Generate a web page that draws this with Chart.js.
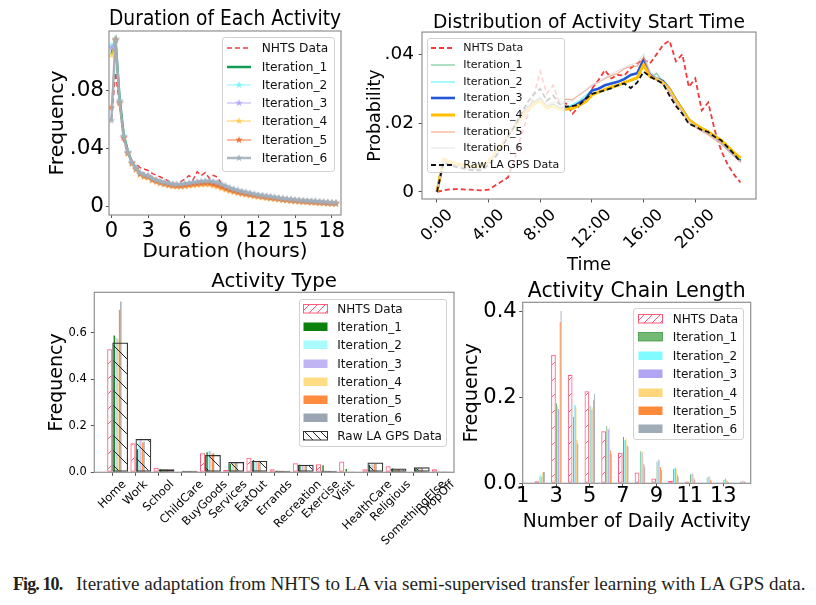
<!DOCTYPE html>
<html>
<head>
<meta charset="utf-8">
<script src="https://cdn.jsdelivr.net/npm/chart.js@4.4.1/dist/chart.umd.min.js"></script>
<style>
html,body{margin:0;padding:0;background:#fff;}
body{width:816px;height:605px;position:relative;overflow:hidden;}
canvas{position:absolute;}
.leg{position:absolute;box-sizing:border-box;border:1px solid #d2d2d2;border-radius:3px;background:rgba(255,255,255,0.8);font-family:'DejaVu Sans',sans-serif;color:#111;}
.leg .row{position:absolute;left:0;right:0;height:16px;line-height:16px;white-space:nowrap;}
.leg svg{position:absolute;overflow:visible;}
.leg span{position:absolute;top:0;}
#cap{position:absolute;left:13px;top:573.5px;font-family:'Liberation Serif','Times New Roman',serif;font-size:19.1px;line-height:20px;color:#231f20;white-space:nowrap;}
#cap b{font-size:18px;letter-spacing:-0.9px;}
</style>
</head>
<body>
<canvas id="cA" width="360" height="268" style="left:0px;top:0px"></canvas>
<canvas id="cB" width="456" height="280" style="left:360px;top:0px"></canvas>
<canvas id="cC" width="470" height="290" style="left:0px;top:262px"></canvas>
<canvas id="cD" width="361" height="268" style="left:455px;top:270px"></canvas>
<div id="cap"><b>Fig. 10.</b><span style="margin-left:13.7px">Iterative adaptation from NHTS to LA via semi-supervised transfer learning with LA GPS data.</span></div>
<script>
// ================= DATA =================
const iterNames = ['Iteration_1','Iteration_2','Iteration_3','Iteration_4','Iteration_5','Iteration_6'];
const nhtsName = 'NHTS Data';
const rawName = 'Raw LA GPS Data';

// --- Duration of Each Activity ---
const durMinutes = [0,20,40,60,80,100,120,140,160,180,200,220,240,260,280,300,320,340,360,380,400,420,440,460,480,500,520,540,560,580,600,620,640,660,680,700,720,740,760,780,800,820,840,860,880,900,920,940,960,980,1000,1020,1040,1060,1080,1100];
const durTicksX = [0,3,6,9,12,15,18];
const durTicksY = [0,0.04,0.08];
const durTickLabelsY = ['0','.04','.08'];
const durNHTS = [0.060,0.092,0.069,0.045,0.036,0.031,0.029,0.0265,0.0255,0.0245,0.0225,0.0212,0.0200,0.0188,0.0172,0.0160,0.0152,0.0168,0.0186,0.0210,0.0180,0.0237,0.0210,0.0230,0.0190,0.0212,0.0198,0.0152,0.0136,0.0122,0.0112,0.0102,0.0094,0.0088,0.0082,0.0076,0.0071,0.0067,0.0063,0.0059,0.0055,0.0051,0.0048,0.0045,0.0042,0.0039,0.0036,0.0034,0.0032,0.0030,0.0028,0.0026,0.0024,0.0022,0.0020,0.0019];
const durIter1 = [0.105,0.114,0.074,0.049,0.038,0.030,0.026,0.0228,0.0212,0.0206,0.0186,0.0176,0.0166,0.0158,0.0150,0.0145,0.0142,0.0141,0.0144,0.0147,0.0151,0.0154,0.0156,0.0158,0.0158,0.0152,0.0145,0.0135,0.0125,0.0115,0.0107,0.0099,0.0093,0.0087,0.0082,0.0076,0.0070,0.0066,0.0062,0.0058,0.0054,0.0050,0.0046,0.0043,0.0040,0.0037,0.0034,0.0032,0.0030,0.0028,0.0026,0.0024,0.0022,0.0020,0.0019,0.0017];
const durIter2 = [0.1106,0.1142,0.073,0.048,0.037,0.0298,0.0258,0.0224,0.0209,0.0204,0.0184,0.0174,0.0164,0.0156,0.0149,0.0144,0.0142,0.0142,0.0146,0.0150,0.0155,0.0159,0.0161,0.0163,0.0164,0.0158,0.0150,0.0139,0.0128,0.0117,0.0108,0.0100,0.0093,0.0087,0.0082,0.0076,0.0070,0.0066,0.0062,0.0058,0.0054,0.0050,0.0046,0.0043,0.0040,0.0037,0.0035,0.0033,0.0031,0.0029,0.0027,0.0025,0.0023,0.0021,0.0019,0.0018];
const durIter3 = [0.109,0.1143,0.072,0.0478,0.0368,0.0299,0.0259,0.0225,0.0210,0.0205,0.0185,0.0175,0.0165,0.0157,0.0150,0.0145,0.0143,0.0143,0.0147,0.0151,0.0155,0.0159,0.0162,0.0164,0.0165,0.0159,0.0151,0.0139,0.0128,0.0118,0.0109,0.0101,0.0094,0.0088,0.0083,0.0077,0.0071,0.0067,0.0063,0.0059,0.0055,0.0051,0.0047,0.0044,0.0041,0.0038,0.0035,0.0033,0.0031,0.0029,0.0027,0.0025,0.0023,0.0021,0.0019,0.0018];
const durIter4 = [0.104,0.1140,0.071,0.047,0.036,0.029,0.025,0.0215,0.0200,0.0195,0.0176,0.0166,0.0156,0.0148,0.0141,0.0136,0.0134,0.0134,0.0137,0.0140,0.0143,0.0146,0.0148,0.0149,0.0148,0.0141,0.0133,0.0122,0.0113,0.0104,0.0097,0.0090,0.0084,0.0079,0.0074,0.0069,0.0064,0.0060,0.0056,0.0052,0.0049,0.0045,0.0042,0.0039,0.0036,0.0033,0.0031,0.0029,0.0027,0.0025,0.0023,0.0021,0.0020,0.0018,0.0017,0.0016];
const durIter5 = [0.068,0.1148,0.071,0.047,0.0365,0.0295,0.0255,0.0220,0.0205,0.0200,0.0180,0.0170,0.0160,0.0152,0.0145,0.0140,0.0138,0.0138,0.0141,0.0145,0.0149,0.0152,0.0154,0.0156,0.0155,0.0148,0.0140,0.0129,0.0119,0.0109,0.0101,0.0094,0.0088,0.0082,0.0077,0.0072,0.0067,0.0063,0.0059,0.0055,0.0051,0.0048,0.0044,0.0041,0.0038,0.0035,0.0033,0.0031,0.0029,0.0027,0.0025,0.0023,0.0021,0.0019,0.0018,0.0017];
const durIter6 = [0.059,0.1150,0.072,0.048,0.0370,0.0300,0.0262,0.0228,0.0214,0.0208,0.0189,0.0179,0.0169,0.0161,0.0155,0.0150,0.0149,0.0150,0.0154,0.0158,0.0163,0.0167,0.0170,0.0172,0.0173,0.0168,0.0161,0.0149,0.0137,0.0125,0.0115,0.0107,0.0100,0.0094,0.0088,0.0082,0.0076,0.0072,0.0068,0.0064,0.0060,0.0056,0.0052,0.0049,0.0046,0.0043,0.0040,0.0038,0.0036,0.0034,0.0032,0.0030,0.0028,0.0026,0.0024,0.0023];

// --- Distribution of Activity Start Time ---
const startHours = [0,0.5,1,1.5,2,2.5,3,3.5,4,4.5,5,5.5,6,6.5,7,7.5,8,8.5,9,9.5,10,10.5,11,11.5,12,12.5,13,13.5,14,14.5,15,15.5,16,16.5,17,17.5,18,18.5,19,19.5,20,20.5,21,21.5,22,22.5,23,23.5];
const startTicks = [0,4,8,12,16,20];
const startTickLabels = ['0:00','4:00','8:00','12:00','16:00','20:00'];
const startTicksY = [0,0.02,0.04];
const startTickLabelsY = ['0','.02','.04'];
const startNHTS = [0,0.0004,0.0007,0.0008,0.0007,0.0006,0.0005,0.0004,0.0006,0.0018,0.0030,0.0042,0.0095,0.0160,0.0220,0.0280,0.0350,0.0286,0.0310,0.0260,0.0257,0.0227,0.0250,0.0266,0.0300,0.0325,0.0354,0.0330,0.0340,0.0338,0.0360,0.0374,0.0385,0.0374,0.0400,0.0427,0.0440,0.0380,0.0400,0.0305,0.0330,0.0237,0.0260,0.0180,0.0120,0.0080,0.0050,0.0027];
const startIter1 = [0,0.0090,0.0084,0.0079,0.0076,0.0072,0.0070,0.0072,0.0088,0.0110,0.0138,0.0168,0.0195,0.0222,0.0245,0.0262,0.0272,0.0248,0.0255,0.0243,0.0245,0.0250,0.0258,0.0272,0.0285,0.0290,0.0295,0.0300,0.0310,0.0320,0.0322,0.0330,0.0372,0.0332,0.0345,0.0320,0.0300,0.0268,0.0240,0.0210,0.0195,0.0183,0.0175,0.0162,0.0148,0.0128,0.0110,0.0092];
const startIter2 = [0,0.0092,0.0086,0.0080,0.0077,0.0073,0.0071,0.0073,0.0090,0.0112,0.0140,0.0170,0.0197,0.0224,0.0247,0.0265,0.0275,0.0250,0.0257,0.0245,0.0247,0.0254,0.0264,0.0280,0.0295,0.0302,0.0308,0.0315,0.0322,0.0330,0.0338,0.0345,0.0380,0.0338,0.0330,0.0318,0.0298,0.0265,0.0238,0.0208,0.0194,0.0182,0.0173,0.0160,0.0146,0.0127,0.0110,0.0094];
const startIter3 = [0,0.0090,0.0083,0.0078,0.0075,0.0071,0.0069,0.0071,0.0087,0.0108,0.0136,0.0166,0.0193,0.0220,0.0243,0.0260,0.0270,0.0246,0.0253,0.0242,0.0245,0.0246,0.0258,0.0270,0.0295,0.0300,0.0310,0.0315,0.0320,0.0328,0.0340,0.0345,0.0385,0.0340,0.0330,0.0322,0.0300,0.0268,0.0240,0.0210,0.0195,0.0183,0.0172,0.0160,0.0146,0.0126,0.0108,0.0090];
const startIter4 = [0,0.0095,0.0088,0.0082,0.0079,0.0075,0.0073,0.0075,0.0090,0.0110,0.0136,0.0165,0.0190,0.0215,0.0238,0.0255,0.0265,0.0244,0.0250,0.0240,0.0240,0.0243,0.0252,0.0262,0.0282,0.0290,0.0298,0.0305,0.0310,0.0318,0.0325,0.0332,0.0370,0.0335,0.0328,0.0318,0.0298,0.0266,0.0238,0.0210,0.0196,0.0185,0.0175,0.0162,0.0150,0.0132,0.0114,0.0098];
const startIter5 = [0,0.0088,0.0082,0.0076,0.0073,0.0069,0.0067,0.0069,0.0085,0.0106,0.0134,0.0164,0.0192,0.0220,0.0244,0.0262,0.0272,0.0250,0.0262,0.0255,0.0270,0.0268,0.0282,0.0295,0.0310,0.0318,0.0330,0.0338,0.0345,0.0358,0.0365,0.0366,0.0392,0.0342,0.0325,0.0312,0.0290,0.0258,0.0232,0.0200,0.0188,0.0176,0.0166,0.0152,0.0140,0.0122,0.0104,0.0086];
const startIter6 = [0,0.0086,0.0080,0.0075,0.0072,0.0068,0.0066,0.0068,0.0084,0.0106,0.0136,0.0170,0.0200,0.0230,0.0258,0.0280,0.0295,0.0268,0.0275,0.0262,0.0262,0.0265,0.0280,0.0296,0.0310,0.0320,0.0332,0.0342,0.0352,0.0362,0.0370,0.0375,0.0402,0.0350,0.0332,0.0318,0.0296,0.0262,0.0235,0.0205,0.0192,0.0180,0.0170,0.0156,0.0142,0.0124,0.0106,0.0088];
const startRaw = [0,0.0085,0.0078,0.0072,0.0068,0.0064,0.0062,0.0063,0.0078,0.0100,0.0128,0.0160,0.0190,0.0225,0.0260,0.0285,0.0300,0.0265,0.0280,0.0255,0.0248,0.0250,0.0252,0.0270,0.0285,0.0290,0.0295,0.0302,0.0310,0.0315,0.0302,0.0318,0.0350,0.0335,0.0325,0.0315,0.0280,0.0250,0.0227,0.0198,0.0190,0.0180,0.0174,0.0160,0.0150,0.0130,0.0110,0.0086];

// --- Activity Type ---
const actTypes = ['Home','Work','School','ChildCare','BuyGoods','Services','EatOut','Errands','Recreation','Exercise','Visit','HealthCare','Religious','SomethingElse','DropOff'];
const actTicksY = [0,0.2,0.4,0.6];
const actTickLabelsY = ['0.0','0.2','0.4','0.6'];
const actNHTS  = [0.530,0.125,0.020,0.003,0.082,0.010,0.063,0.013,0.039,0.0345,0.046,0.013,0.026,0.003,0.013];
const actIter1 = [0.589,0.099,0.013,0.005,0.086,0.036,0.053,0.007,0.033,0.030,0.014,0.032,0.016,0.017,0.003];
const actIter2 = [0.582,0.132,0.013,0.005,0.091,0.039,0.049,0.007,0.030,0.007,0.001,0.035,0.014,0.020,0.003];
const actIter3 = [0.578,0.137,0.013,0.005,0.093,0.039,0.049,0.007,0.030,0.007,0.001,0.035,0.014,0.020,0.003];
const actIter4 = [0.573,0.149,0.013,0.005,0.089,0.039,0.049,0.007,0.030,0.007,0.001,0.035,0.014,0.020,0.003];
const actIter5 = [0.700,0.128,0.012,0.004,0.080,0.040,0.048,0.006,0.030,0.006,0.001,0.036,0.014,0.019,0.003];
const actIter6 = [0.735,0.132,0.012,0.004,0.082,0.040,0.048,0.006,0.030,0.006,0.001,0.037,0.014,0.019,0.003];
const actRaw   = [0.559,0.1435,0.013,0.007,0.0745,0.0445,0.049,0.007,0.032,0.007,0.0,0.042,0.016,0.0215,0.003];

// --- Activity Chain Length ---
const chainLen = [2,3,4,5,6,7,8,9,10,11,12,13,14];
const chainTicksX = [1,3,5,7,9,11,13];
const chainTicksY = [0,0.2,0.4];
const chainTickLabelsY = ['0.0','0.2','0.4'];
const chainNHTS  = [0.0046,0.299,0.252,0.214,0.121,0.071,0.025,0.011,0.006,0.004,0.001,0.001,0];
const chainIter1 = [0.017,0.186,0.155,0.181,0.133,0.108,0.076,0.051,0.033,0.021,0.014,0.008,0.004];
const chainIter2 = [0.021,0.180,0.184,0.179,0.127,0.100,0.072,0.049,0.035,0.0215,0.014,0.009,0.0046];
const chainIter3 = [0.015,0.173,0.181,0.171,0.125,0.100,0.072,0.055,0.037,0.023,0.015,0.011,0.006];
const chainIter4 = [0.025,0.170,0.176,0.176,0.129,0.105,0.075,0.053,0.033,0.0215,0.017,0.009,0.006];
const chainIter5 = [0.026,0.375,0.100,0.193,0.077,0.088,0.045,0.038,0.020,0.0115,0.008,0.005,0.0046];
const chainIter6 = [0.026,0.401,0.092,0.207,0.068,0.086,0.039,0.031,0.015,0.008,0.005,0.003,0.004];

// ================= STYLE / HELPERS =================
Chart.defaults.font.family = "'DejaVu Sans', sans-serif";
Chart.defaults.color = '#000';
const TICK = '#555';
const FRAME = '#8f8f8f';

const framePlugin = {
  id: 'frame',
  afterDraw(c) {
    const a = c.chartArea, g = c.ctx;
    g.save(); g.strokeStyle = FRAME; g.lineWidth = 1.2;
    g.strokeRect(a.left, a.top, a.right - a.left, a.bottom - a.top);
    g.restore();
  }
};
const setTicks = vals => s => { s.ticks = vals.map(v => ({value: v})); };
const centeredTicks = (vals, labels, font, ppu) => s => {
  const g = s.ctx; g.save(); g.font = font;
  s.ticks = vals.map((v, i) => ({value: v + g.measureText(labels[i]).width * Math.SQRT1_2 / 2 / ppu}));
  g.restore();
};
const pts = (xs, ys) => xs.map((x, i) => ({x: x, y: ys[i]}));
function starImg(color) {
  const cv = document.createElement('canvas'); cv.width = cv.height = 8;
  const g = cv.getContext('2d'); g.fillStyle = color; g.beginPath();
  for (let k = 0; k < 10; k++) { const r = k % 2 ? 1.6 : 4, a = -Math.PI / 2 + k * Math.PI / 5; g.lineTo(4 + r * Math.cos(a), 4 + r * Math.sin(a)); }
  g.closePath(); g.fill(); return cv;
}
function hatch(color, dir, size, lw) {
  const cv = document.createElement('canvas'); cv.width = cv.height = size;
  const g = cv.getContext('2d'); g.strokeStyle = color; g.lineWidth = lw; g.beginPath();
  for (const o of [-size, 0, size]) {
    if (dir === '/') { g.moveTo(o - 1, size + 1); g.lineTo(o + size + 1, -1); }
    else { g.moveTo(o - 1, -1); g.lineTo(o + size + 1, size + 1); }
  }
  g.stroke();
  return g.createPattern(cv, 'repeat');
}
function baseOptions(pad, title, titleSize, titlePadB) {
  return {
    responsive: false, animation: false, events: [],
    layout: {padding: pad},
    plugins: {
      legend: {display: false}, tooltip: {enabled: false},
      title: {display: true, text: title, fullSize: false, color: '#000', font: {size: titleSize, weight: 'normal', lineHeight: 1}, padding: {top: 0, bottom: titlePadB}}
    }
  };
}
const axisY = (min, max, ticks, labels, size, pad, tl, title, titleSize, titlePadTop, width) => ({
  min: min, max: max, afterBuildTicks: setTicks(ticks),
  ticks: {font: {size: size, lineHeight: 1}, padding: pad, color: '#000', autoSkip: false, callback: (v, i) => labels[i]},
  grid: {drawOnChartArea: false, tickLength: tl, color: TICK}, border: {display: false},
  title: {display: true, text: title, color: '#000', font: {size: titleSize}, padding: {top: titlePadTop, bottom: 0}},
  afterFit: s => { s.width = width; }
});

// colours
const durColors = ['#119a55', 'rgba(110,245,245,0.85)', 'rgba(175,160,245,0.85)', 'rgba(255,200,70,0.8)', 'rgba(240,105,40,0.9)', 'rgba(160,176,190,0.9)'];
const durWidths = [2.5, 1, 1, 1.2, 1, 2.5];
const durNHTSColor = '#f03c3c';
const startColors = ['rgba(60,179,113,0.55)', 'rgba(100,245,245,0.75)', '#2457d8', '#ffc000', 'rgba(245,150,110,0.8)', 'rgba(215,220,224,0.7)'];
const startWidths = [1.5, 1.5, 2.6, 3, 1.2, 1.2];
const startNHTSColor = '#ef3b3b';
const startRawColor = '#111';
const actColors = ['#0b800b', '#aafcfc', '#c0b5f2', '#ffde85', '#ff8c3f', '#9aa7b2'];
const chainColors = ['#74b974', '#80fbff', '#b0a4f3', '#ffd77a', '#ff8a3a', '#a0adb7'];
const nhtsBarColor = '#ff5c7c';
const rawBarColor = '#333';

// ================= CHART A: duration =================
const durHours = durMinutes.map(m => m / 60);
const durSeries = [durIter1, durIter2, durIter3, durIter4, durIter5, durIter6];
new Chart(document.getElementById('cA'), {
  type: 'line',
  data: {datasets: [
    {label: nhtsName, data: pts(durHours, durNHTS), borderColor: durNHTSColor, borderDash: [5, 3], borderWidth: 1.5, pointRadius: 0, tension: 0, order: 7},
  ].concat(durSeries.map((s, j) => ({
    label: iterNames[j], data: pts(durHours, s), borderColor: durColors[j], borderWidth: durWidths[j], tension: 0,
    pointRadius: j === 0 ? 0 : 3, pointStyle: j === 0 ? 'circle' : starImg(durColors[j]), order: 6 - j
  })))},
  options: Object.assign(baseOptions({left: 40, right: 19, top: 9.25, bottom: 3}, 'Duration of Each Activity', 20.5, 1.25), {
    scales: {
      x: {type: 'linear', min: -0.2, max: 18.75, afterBuildTicks: setTicks(durTicksX),
          ticks: {font: {size: 21, lineHeight: 1}, padding: 3, maxRotation: 0, autoSkip: false, color: '#000', callback: (v, i) => String(durTicksX[i])},
          grid: {drawOnChartArea: false, tickLength: 3, color: TICK}, border: {display: false},
          title: {display: true, text: 'Duration (hours)', color: '#000', font: {size: 20}, padding: {top: 0, bottom: 1.5}},
          afterFit: s => { s.height = 50; }},
      y: axisY(-0.0062, 0.1207, durTicksY, durTickLabelsY, 21.5, 2, 3, 'Frequency', 20.3, 5.3, 69)
    }
  }),
  plugins: [framePlugin]
});

// ================= CHART B: start time =================
const startSeries = [startIter1, startIter2, startIter3, startIter4, startIter5, startIter6];
const pxB = (456 - 60 - 62) / (24.7 + 1.16);
new Chart(document.getElementById('cB'), {
  type: 'line',
  data: {datasets: [
    {label: nhtsName, data: pts(startHours, startNHTS), borderColor: startNHTSColor, borderDash: [5, 3], borderWidth: 1.8, pointRadius: 0, tension: 0, order: 8}
  ].concat(startSeries.map((s, j) => ({
    label: iterNames[j], data: pts(startHours, s), borderColor: startColors[j], borderWidth: startWidths[j], pointRadius: 0, tension: 0, order: 7 - j
  }))).concat([
    {label: rawName, data: pts(startHours, startRaw), borderColor: startRawColor, borderDash: [5, 3], borderWidth: 1.8, pointRadius: 0, tension: 0, order: 0}
  ])},
  options: Object.assign(baseOptions({left: 0, right: 60, top: 13.35, bottom: 0}, 'Distribution of Activity Start Time', 18.7, 0), {
    scales: {
      x: {type: 'linear', min: -1.16, max: 24.7, afterBuildTicks: setTicks(startTicks), ticks: {display: false},
          grid: {drawOnChartArea: false, tickLength: 3.5, color: TICK}, border: {display: false}, afterFit: s => { s.height = 3.5; }},
      xl: {type: 'linear', position: 'bottom', min: -1.16, max: 24.7,
           afterBuildTicks: centeredTicks(startTicks, startTickLabels, "16.5px 'DejaVu Sans'", pxB),
           ticks: {font: {size: 16.5}, padding: 3, minRotation: 45, maxRotation: 45, autoSkip: false, color: '#000', callback: (v, i) => startTickLabels[i]},
           grid: {display: false, drawTicks: false, tickLength: 0}, border: {display: false},
           title: {display: true, text: 'Time', color: '#000', font: {size: 18}, padding: {top: 0, bottom: 3.7}},
           afterFit: s => { s.height = 77.5; }},
      y: axisY(-0.0021, 0.0465, startTicksY, startTickLabelsY, 18.5, 4.5, 3.5, 'Probability', 17.5, 4.5, 62)
    }
  }),
  plugins: [framePlugin]
});

// ================= CHART C: activity type =================
const actIdx = actTypes.map((t, i) => i);
const actSeries = [actIter1, actIter2, actIter3, actIter4, actIter5, actIter6];
const pxC = (470 - 40 - 16 - 54.3) / (14.73 + 0.776);
const cMin = -0.776, cMax = 14.73, cShiftN = -0.11, cShiftI = 0.34;
new Chart(document.getElementById('cC'), {
  type: 'bar',
  data: {datasets: [
    {label: nhtsName, xAxisID: 'xn', data: pts(actIdx, actNHTS), backgroundColor: hatch(nhtsBarColor, '/', 15, 1), borderColor: nhtsBarColor, borderWidth: 1, borderSkipped: false, grouped: false, categoryPercentage: 1, barPercentage: 0.22}
  ].concat(actSeries.map((s, j) => ({
    label: iterNames[j], xAxisID: 'xi', data: pts(actIdx, s), backgroundColor: actColors[j], borderWidth: 0, categoryPercentage: 0.68, barPercentage: 1
  }))).concat([
    {label: rawName, xAxisID: 'xi', data: pts(actIdx, actRaw), backgroundColor: hatch('#222', '\\', 15, 1), borderColor: rawBarColor, borderWidth: 1.2, borderSkipped: false, grouped: false, categoryPercentage: 1, barPercentage: 0.68, order: -1}
  ])},
  options: Object.assign(baseOptions({left: 40, right: 16, top: 9.8, bottom: 0}, 'Activity Type', 19.8, 0.7), {
    scales: {
      x: {type: 'linear', offset: false, min: cMin, max: cMax, afterBuildTicks: setTicks(actIdx), ticks: {display: false},
          grid: {drawOnChartArea: false, tickLength: 3.5, color: TICK, offset: false}, border: {display: false}, afterFit: s => { s.height = 3.5; }},
      xl: {type: 'linear', position: 'bottom', offset: false, min: cMin, max: cMax,
           afterBuildTicks: centeredTicks(actIdx, actTypes, "11.5px 'DejaVu Sans'", pxC),
           ticks: {font: {size: 11.5}, padding: 2, minRotation: 45, maxRotation: 45, autoSkip: false, color: '#000', callback: (v, i) => actTypes[i]},
           grid: {display: false, drawTicks: false, tickLength: 0, offset: false}, border: {display: false},
           afterFit: s => { s.height = 76.2; }},
      xn: {type: 'linear', display: false, offset: false, grid: {offset: false}, min: cMin - cShiftN, max: cMax - cShiftN, afterBuildTicks: setTicks(actIdx)},
      xi: {type: 'linear', display: false, offset: false, grid: {offset: false}, min: cMin - cShiftI, max: cMax - cShiftI, afterBuildTicks: setTicks(actIdx)},
      y: axisY(0, 0.775, actTicksY, actTickLabelsY, 11.5, 4, 3.5, 'Frequency', 19, 5.3, 54.3)
    }
  }),
  plugins: [framePlugin]
});

// ================= CHART D: chain length =================
const chainSeries = [chainIter1, chainIter2, chainIter3, chainIter4, chainIter5, chainIter6];
const dMin = 1, dMax = 14.64, dShiftN = -0.16, dShiftI = 0.27;
new Chart(document.getElementById('cD'), {
  type: 'bar',
  data: {datasets: [
    {label: nhtsName, xAxisID: 'xn', data: pts(chainLen, chainNHTS), backgroundColor: hatch(nhtsBarColor, '/', 16, 1), borderColor: nhtsBarColor, borderWidth: 1, borderSkipped: false, grouped: false, categoryPercentage: 1, barPercentage: 0.28}
  ].concat(chainSeries.map((s, j) => ({
    label: iterNames[j], xAxisID: 'xi', data: pts(chainLen, s), backgroundColor: chainColors[j],
    borderColor: j === 0 ? '#3c9a3c' : chainColors[j], borderWidth: j === 0 ? 0.8 : 0, categoryPercentage: 0.64, barPercentage: 1
  })))},
  options: Object.assign(baseOptions({left: 0, right: 65.3, top: 11.8, bottom: 0}, 'Activity Chain Length', 20.4, 0.1), {
    scales: {
      x: {type: 'linear', offset: false, min: dMin, max: dMax, afterBuildTicks: setTicks(chainTicksX),
          ticks: {font: {size: 21, lineHeight: 1}, padding: 0.2, maxRotation: 0, autoSkip: false, color: '#000', callback: (v, i) => String(chainTicksX[i])},
          grid: {drawOnChartArea: false, tickLength: 3, color: TICK, offset: false}, border: {display: false},
          title: {display: true, text: 'Number of Daily Activity', color: '#000', font: {size: 20.2}, padding: {top: 0, bottom: 4.3}},
          afterFit: s => { s.height = 54.7; }},
      xn: {type: 'linear', display: false, offset: false, grid: {offset: false}, min: dMin - dShiftN, max: dMax - dShiftN, afterBuildTicks: setTicks(chainLen)},
      xi: {type: 'linear', display: false, offset: false, grid: {offset: false}, min: dMin - dShiftI, max: dMax - dShiftI, afterBuildTicks: setTicks(chainLen)},
      y: axisY(0, 0.421, chainTicksY, chainTickLabelsY, 21, 2.5, 3.5, 'Frequency', 19.3, 5.1, 67.7)
    }
  }),
  plugins: [framePlugin]
});

// ================= HTML LEGENDS =================
let patId = 0;
function starPoints(cx, cy, ro, ri) {
  const p = [];
  for (let k = 0; k < 10; k++) { const r = k % 2 ? ri : ro, a = -Math.PI / 2 + k * Math.PI / 5; p.push((cx + r * Math.cos(a)).toFixed(2) + ',' + (cy + r * Math.sin(a)).toFixed(2)); }
  return p.join(' ');
}
function lineSvg(color, width, dash, star) {
  let s = `<line x1="0" y1="6" x2="24" y2="6" stroke="${color}" stroke-width="${width}"${dash ? ` stroke-dasharray="${dash}"` : ''}/>`;
  if (star) s += `<polygon points="${starPoints(12, 6, 4, 1.6)}" fill="${color}"/>`;
  return s;
}
function patchSvg(fill, stroke, hatchColor, dir) {
  if (!hatchColor) return `<rect x="0.5" y="1.5" width="24" height="8.5" fill="${fill}"${stroke ? ` stroke="${stroke}" stroke-width="0.8"` : ''}/>`;
  const id = 'hp' + (patId++);
  const d = dir === '/' ? 'M-1,9 L9,-1 M7,9 L9,7 M-1,1 L1,-1' : 'M-1,-1 L9,9 M7,-1 L9,1 M-1,7 L1,9';
  return `<defs><pattern id="${id}" width="8" height="8" patternUnits="userSpaceOnUse"><path d="${d}" stroke="${hatchColor}" stroke-width="1"/></pattern></defs>` +
         `<rect x="0.5" y="1.5" width="24" height="8.5" fill="url(#${id})" stroke="${stroke}" stroke-width="1"/>`;
}
function buildLegend(spec, items) {
  const d = document.createElement('div'); d.className = 'leg';
  Object.assign(d.style, {left: spec.left + 'px', top: spec.top + 'px', width: spec.width + 'px', height: spec.height + 'px', fontSize: spec.fontSize + 'px'});
  items.forEach((it, i) => {
    const cy = spec.rowTop - spec.top + i * spec.rowStep - 1;
    const row = document.createElement('div'); row.className = 'row';
    row.style.top = (cy - 8) + 'px';
    row.innerHTML = `<svg width="25" height="12" style="left:${spec.handleX - spec.left - 1}px;top:2px">${it.svg}</svg><span style="left:${spec.textX - spec.left - 1}px">${it.label}</span>`;
    d.appendChild(row);
  });
  document.body.appendChild(d);
}
buildLegend({left: 221.7, top: 37.3, width: 113.3, height: 134.4, rowTop: 48.3, rowStep: 18.3, handleX: 226.7, textX: 261.7, fontSize: 12.2},
  [{label: nhtsName, svg: lineSvg(durNHTSColor, 1.5, '5,3', false)}].concat(iterNames.map((n, j) => ({label: n, svg: lineSvg(durColors[j], durWidths[j], null, j > 0)}))));
buildLegend({left: 426.7, top: 38.3, width: 138.3, height: 135, rowTop: 48.3, rowStep: 16.7, handleX: 431, textX: 463.3, fontSize: 11},
  [{label: nhtsName, svg: lineSvg(startNHTSColor, 1.8, '5,3', false)}].concat(iterNames.map((n, j) => ({label: n, svg: lineSvg(startColors[j], startWidths[j], null, false)})))
  .concat([{label: rawName, svg: lineSvg(startRawColor, 1.8, '5,3', false)}]));
buildLegend({left: 299.3, top: 299.3, width: 147.4, height: 148, rowTop: 309, rowStep: 18.2, handleX: 303.3, textX: 337.3, fontSize: 12},
  [{label: nhtsName, svg: patchSvg(null, nhtsBarColor, nhtsBarColor, '/')}].concat(iterNames.map((n, j) => ({label: n, svg: patchSvg(actColors[j], null)})))
  .concat([{label: rawName, svg: patchSvg(null, rawBarColor, '#222', '\\')}]));
buildLegend({left: 633.3, top: 308.3, width: 110.7, height: 131.7, rowTop: 319, rowStep: 18.4, handleX: 637.7, textX: 672.7, fontSize: 12},
  [{label: nhtsName, svg: patchSvg(null, nhtsBarColor, nhtsBarColor, '/')}].concat(iterNames.map((n, j) => ({label: n, svg: patchSvg(chainColors[j], j === 0 ? '#3c9a3c' : null)}))));
</script>
</body>
</html>
